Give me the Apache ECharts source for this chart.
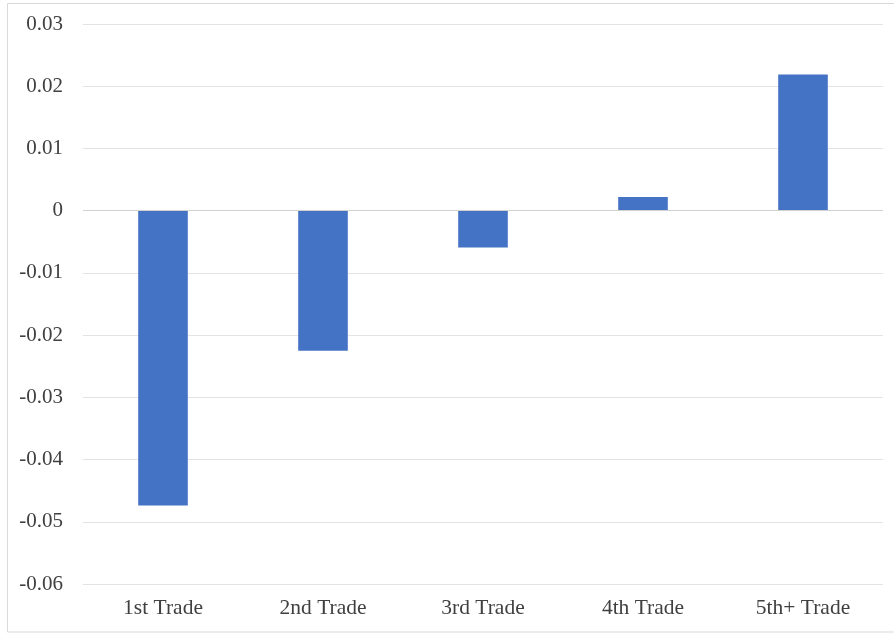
<!DOCTYPE html>
<html>
<head>
<meta charset="utf-8">
<script src="https://cdn.jsdelivr.net/npm/echarts@6/dist/echarts.min.js"></script>
<style>
  html, body { margin: 0; padding: 0; background: #fff; }
  #chart { width: 894px; height: 634px; }
</style>
</head>
<body>
<div id="chart"></div>
<script>
// Average effect by trade order
var categories = ['1st Trade', '2nd Trade', '3rd Trade', '4th Trade', '5th+ Trade'];
var values = [-0.0474, -0.0225, -0.0059, 0.0022, 0.0219];
var yMin = -0.06, yMax = 0.03, yStep = 0.01;

var font = '"Liberation Serif", "DejaVu Serif", serif';
var chart = echarts.init(document.getElementById('chart'), null, { renderer: 'canvas' });

chart.setOption({
  animation: false,
  backgroundColor: '#ffffff',
  graphic: [{
    type: 'rect',
    shape: { x: 7.5, y: 3.5, width: 900, height: 628.5 },
    style: { fill: 'none', stroke: '#d9d9d9', lineWidth: 1 },
    silent: true
  }],
  grid: { left: 83, right: 11, top: 24, bottom: 50 },
  xAxis: {
    type: 'category',
    data: categories,
    axisLine: { show: false },
    axisTick: { show: false },
    axisLabel: { color: '#404040', fontFamily: font, fontSize: 21.5, margin: 13 }
  },
  yAxis: {
    type: 'value',
    min: yMin, max: yMax, interval: yStep,
    axisLine: { show: false },
    axisTick: { show: false },
    splitLine: { lineStyle: { color: '#e3e3e3', width: 1 } },
    axisLabel: {
      color: '#404040', fontFamily: font, fontSize: 21, margin: 20,
      padding: [4, 0, 0, 0],
      formatter: function (v) { return String(Math.round(v * 100) / 100); }
    }
  },
  series: [{
    type: 'bar',
    data: values,
    barWidth: '31%',
    itemStyle: { color: '#4472C4' },
    markLine: {
      silent: true, symbol: 'none', label: { show: false },
      lineStyle: { color: '#d0d0d0', type: 'solid', width: 1 },
      data: [{ yAxis: 0 }]
    }
  }]
});
</script>
</body>
</html>
